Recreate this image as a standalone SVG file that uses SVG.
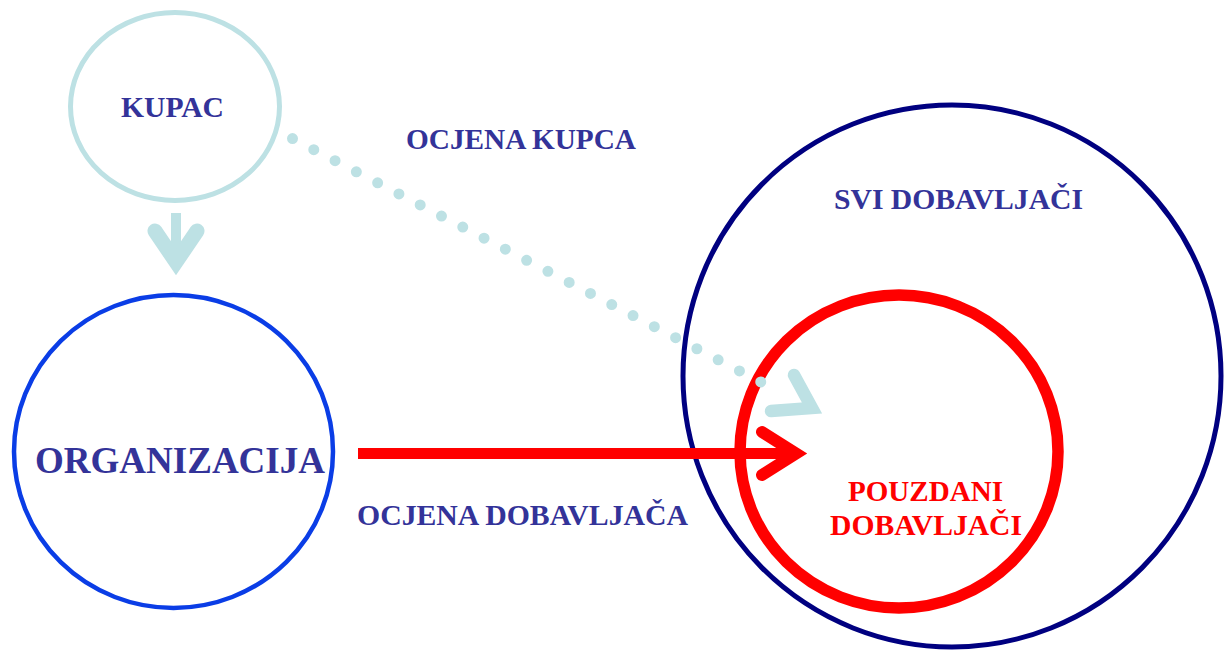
<svg xmlns="http://www.w3.org/2000/svg" width="1225" height="652" viewBox="0 0 1225 652">
<style>
.t{font-family:"Liberation Serif","Times New Roman",serif;font-weight:bold;fill:#333399;text-anchor:middle}
.r{fill:#ff0000}
</style>
<rect width="1225" height="652" fill="#ffffff"/>
<g id="svi-dobavljaci">
<ellipse cx="952" cy="376" rx="269" ry="271" fill="none" stroke="#000080" stroke-width="5"/>
<text class="t" x="958.5" y="209" font-size="30" textLength="249" lengthAdjust="spacingAndGlyphs">SVI DOBAVLJAČI</text>
</g>
<g id="pouzdani-dobavljaci">
<ellipse cx="899" cy="451.5" rx="159" ry="156.5" fill="none" stroke="#ff0000" stroke-width="11.5"/>
<text class="t r" x="925.5" y="501" font-size="30" textLength="155" lengthAdjust="spacingAndGlyphs">POUZDANI</text>
<text class="t r" x="926" y="535" font-size="30" textLength="192" lengthAdjust="spacingAndGlyphs">DOBAVLJAČI</text>
</g>
<g id="kupac">
<ellipse cx="175" cy="106.5" rx="104.5" ry="94" fill="none" stroke="#bde1e4" stroke-width="5"/>
<text class="t" x="172.5" y="117" font-size="30" textLength="103" lengthAdjust="spacingAndGlyphs">KUPAC</text>
</g>
<g id="organizacija">
<ellipse cx="173.5" cy="451.5" rx="159.5" ry="156.5" fill="none" stroke="#0a3de6" stroke-width="4.5"/>
<text class="t" x="180" y="473" font-size="37.5" textLength="290" lengthAdjust="spacingAndGlyphs">ORGANIZACIJA</text>
</g>
<g id="connectors">
<g id="kupac-organizacija" fill="none" stroke="#bde1e4">
<line x1="176" y1="213" x2="176" y2="262" stroke-width="10"/>
<polyline points="155,231 176,262 197,231" stroke-width="15" stroke-linecap="round" stroke-linejoin="miter" stroke-miterlimit="10"/>
</g>
<g id="ocjena-kupca" fill="none" stroke="#bde1e4">
<line x1="292.5" y1="138.6" x2="782" y2="393" stroke-width="11" stroke-linecap="round" stroke-dasharray="0 23.986"/>
<polyline points="794,375 812,408 771,411" stroke-width="12.5" stroke-linecap="round" stroke-linejoin="miter" stroke-miterlimit="10"/>
<text class="t" x="521" y="149" font-size="30" textLength="230" lengthAdjust="spacingAndGlyphs" stroke="none">OCJENA KUPCA</text>
</g>
<g id="ocjena-dobavljaca" fill="none" stroke="#ff0000">
<line x1="358" y1="453.5" x2="797" y2="453.5" stroke-width="11"/>
<polyline points="762,432 796,453.5 762,475" stroke-width="12" stroke-linecap="round" stroke-linejoin="miter" stroke-miterlimit="10"/>
<text class="t" x="522.5" y="525" font-size="30" textLength="331" lengthAdjust="spacingAndGlyphs" stroke="none">OCJENA DOBAVLJAČA</text>
</g>
</g>
</svg>
